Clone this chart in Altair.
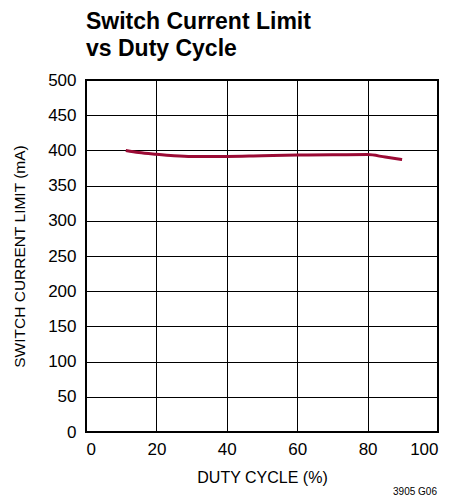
import altair as alt
import pandas as pd

duty = [11.3, 15, 20, 25, 30, 40, 50, 60, 70, 80, 85, 89.8]
ilim = [400, 397, 394.5, 392.5, 391.5, 391.5, 392.5, 393.3, 393.8, 394, 390.5, 387]

df = pd.DataFrame({"duty": duty, "ilim": ilim})

FONT = "Liberation Sans, Arial, sans-serif"

line = alt.Chart(df).mark_line(color="#9b0b35", strokeWidth=3, interpolate="monotone").encode(
    x=alt.X("duty:Q", scale=alt.Scale(domain=[0, 100], nice=False),
            axis=alt.Axis(values=[0, 20, 40, 60, 80, 100], title="DUTY CYCLE (%)",
                          grid=True, gridColor="#000", gridOpacity=1, gridWidth=1,
                          ticks=False, domain=False, labelPadding=9,
                          labelFontSize=17, labelFont=FONT, labelColor="#000",
                          titleFontSize=16, titleFont=FONT, titleFontWeight="normal",
                          titleColor="#000", titlePadding=12)),
    y=alt.Y("ilim:Q", scale=alt.Scale(domain=[0, 500], nice=False),
            axis=alt.Axis(values=list(range(0, 501, 50)), title="SWITCH CURRENT LIMIT (mA)",
                          grid=True, gridColor="#000", gridOpacity=1, gridWidth=1,
                          ticks=False, domain=False, labelPadding=10,
                          labelFontSize=17, labelFont=FONT, labelColor="#000",
                          titleFontSize=15.5, titleFont=FONT, titleFontWeight="normal",
                          titleColor="#000", titlePadding=20)),
)

note = alt.Chart(pd.DataFrame({"t": ["3905 G06"]})).mark_text(
    font=FONT, fontSize=10, align="right", baseline="middle", color="#000"
).encode(text="t:N", x=alt.value(351), y=alt.value(412))

chart = alt.layer(line, note).properties(
    width=352, height=352,
    autosize=alt.AutoSizeParams(type="none"),
    padding={"left": 78, "top": 72, "right": 20, "bottom": 64},
    title=alt.TitleParams(["Switch Current Limit", "vs Duty Cycle"], anchor="start",
                          font=FONT, fontSize=23, fontWeight="bold", color="#000",
                          lineHeight=27, offset=10, frame="group"),
).configure_view(stroke="#000", strokeWidth=2)

chart.save("out.html", embed_options={"renderer": "svg", "actions": False})
